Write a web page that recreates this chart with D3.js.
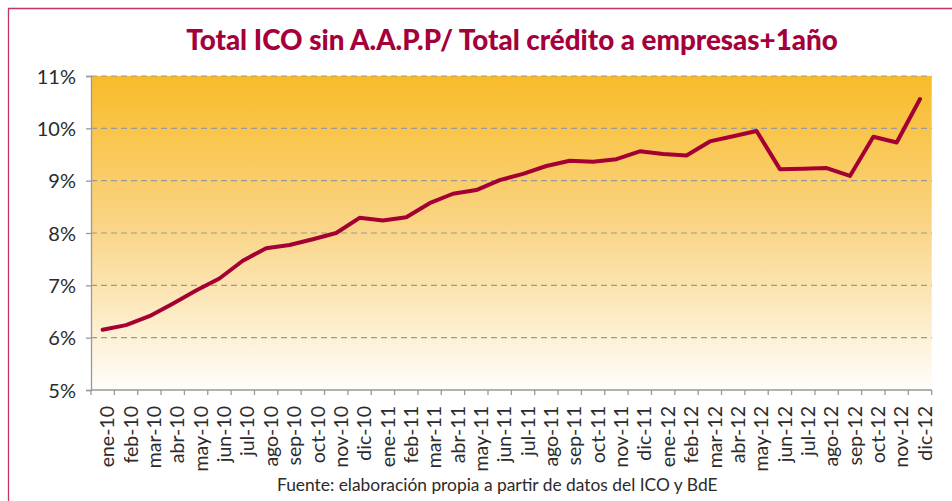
<!DOCTYPE html>
<html>
<head>
<meta charset="utf-8">
<script src="https://cdn.jsdelivr.net/npm/d3@7"></script>
<style>
  body { margin: 0; background: #fff; }
  svg { display: block; }
  text { font-family: Lato, "Open Sans", sans-serif; }
</style>
</head>
<body>
<svg id="chart" width="952" height="501"></svg>
<script>
const months = ["ene-10","feb-10","mar-10","abr-10","may-10","jun-10","jul-10","ago-10","sep-10","oct-10","nov-10","dic-10",
  "ene-11","feb-11","mar-11","abr-11","may-11","jun-11","jul-11","ago-11","sep-11","oct-11","nov-11","dic-11",
  "ene-12","feb-12","mar-12","abr-12","may-12","jun-12","jul-12","ago-12","sep-12","oct-12","nov-12","dic-12"]

// ratio in %
const ratio = [6.15, 6.24, 6.41, 6.65, 6.90, 7.13, 7.47, 7.71, 7.77, 7.88, 8.00, 8.29,
  8.24, 8.30, 8.57, 8.75, 8.82, 9.01, 9.13, 9.28, 9.38, 9.36, 9.41, 9.56,
  9.51, 9.48, 9.75, 9.85, 9.95, 9.22, 9.23, 9.24, 9.09, 9.84, 9.73, 10.56]

const yTicks = [5, 6, 7, 8, 9, 10, 11]

const title = "Total ICO sin A.A.P.P/ Total crédito a empresas+1año"
const source = "Fuente: elaboración propia a partir de datos del ICO y BdE"

const svg = d3.select("#chart")
const x = d3.scaleBand().domain(months).range([91, 931.7])
const y = d3.scaleLinear().domain([5, 11]).range([390, 76])

// outer frame
svg.append("path")
  .attr("d", "M8.5,501 V8.5 H952")
  .attr("fill", "none")
  .attr("stroke", "#c4365c")
  .attr("stroke-width", 1.3)

// background gradient
const grad = svg.append("defs").append("linearGradient")
  .attr("id", "bg").attr("x1", 0).attr("y1", 0).attr("x2", 0).attr("y2", 1)
grad.append("stop").attr("offset", "0%").attr("stop-color", "#f8bb29")
grad.append("stop").attr("offset", "50%").attr("stop-color", "#fad68a")
grad.append("stop").attr("offset", "100%").attr("stop-color", "#fffefb")

svg.append("rect")
  .attr("x", x.range()[0]).attr("y", y(11))
  .attr("width", x.range()[1] - x.range()[0]).attr("height", y(5) - y(11))
  .attr("fill", "url(#bg)")

// dashed gridlines
svg.append("g").selectAll("line")
  .data(yTicks.filter(d => d > 5))
  .join("line")
  .attr("x1", x.range()[0]).attr("x2", x.range()[1])
  .attr("y1", d => y(d)).attr("y2", d => y(d))
  .attr("stroke", "#999").attr("stroke-width", 1.2)
  .attr("stroke-dasharray", "6,4")

// y axis
const yAxis = svg.append("g")
  .attr("transform", `translate(${x.range()[0]},0)`)
  .call(d3.axisLeft(y).tickValues(yTicks).tickSize(5).tickPadding(10).tickFormat(d => d + "%"))
yAxis.select(".domain").attr("stroke", "#999").attr("stroke-width", 1.3)
yAxis.selectAll(".tick line").attr("stroke", "#999").attr("stroke-width", 1.3)
yAxis.selectAll(".tick text")
  .attr("fill", "#2b2b2b").style("font-size", "20px")
  .attr("x", -15).attr("dy", "0.36em")

// x axis with ticks at band edges
const xg = svg.append("g").attr("transform", `translate(0,${y(5)})`)
xg.append("line")
  .attr("x1", x.range()[0]).attr("x2", x.range()[1])
  .attr("stroke", "#999").attr("stroke-width", 1.3)
xg.selectAll(".edge")
  .data(d3.range(months.length + 1))
  .join("line")
  .attr("class", "edge")
  .attr("x1", i => x.range()[0] + i * x.step()).attr("x2", i => x.range()[0] + i * x.step())
  .attr("y1", 0).attr("y2", 5)
  .attr("stroke", "#999").attr("stroke-width", 1.3)
xg.selectAll(".lbl")
  .data(months)
  .join("text")
  .attr("class", "lbl")
  .attr("transform", d => `translate(${x(d) + x.bandwidth() / 2},16) rotate(-90)`)
  .attr("text-anchor", "end")
  .attr("dy", "0.6em")
  .attr("fill", "#2b2b2b")
  .style("font-size", "19.5px")
  .text(d => d)

// line
const line = d3.line()
  .x((d, i) => x(months[i]) + x.bandwidth() / 2)
  .y(d => y(d))
svg.append("path")
  .datum(ratio)
  .attr("d", line)
  .attr("fill", "none")
  .attr("stroke", "#a50034")
  .attr("stroke-width", 4)
  .attr("stroke-linejoin", "round")
  .attr("stroke-linecap", "round")

// title, sized to the reference width
const t = svg.append("text")
  .attr("x", 512).attr("y", 50)
  .attr("text-anchor", "middle")
  .attr("fill", "#a5003a")
  .style("font-weight", "900")
  .style("font-size", "24px")
  .text(title)
const tw = t.node().getComputedTextLength()
t.style("font-size", (24 * 652 / tw) + "px")

const s = svg.append("text")
  .attr("x", 277).attr("y", 491)
  .attr("fill", "#2b2b2b")
  .style("font-size", "16px")
  .text(source)
const sw = s.node().getComputedTextLength()
s.style("font-size", (16 * 441 / sw) + "px")
</script>
</body>
</html>
